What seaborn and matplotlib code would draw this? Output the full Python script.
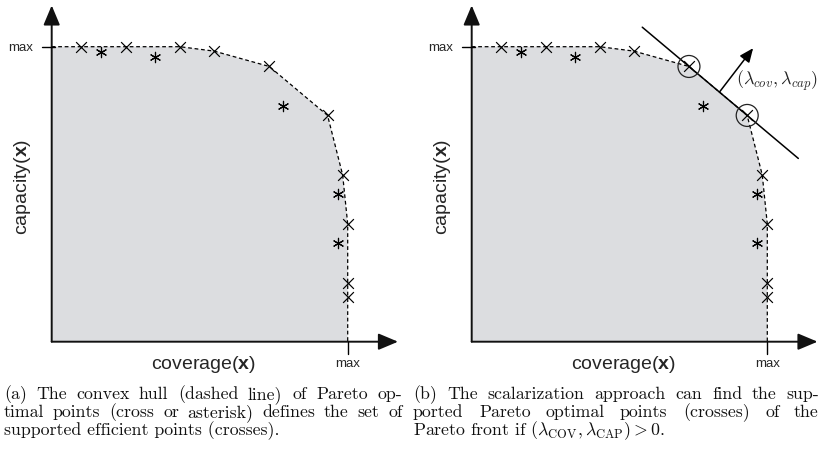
import matplotlib
matplotlib.use("Agg")
import matplotlib.pyplot as plt
import numpy as np
import pandas as pd
import seaborn as sns

sns.set_theme(style="white")
plt.rcParams["font.family"] = ["Liberation Sans", "DejaVu Sans"]
plt.rcParams["mathtext.fontset"] = "cm"
plt.rcParams["mathtext.rm"] = "Liberation Sans"
plt.rcParams["mathtext.it"] = "Liberation Sans:italic"
plt.rcParams["mathtext.bf"] = "Liberation Sans:bold"

# Pareto points, both objectives normalised so that "max" = 1
supported_cov = [0.099, 0.250, 0.433, 0.549, 0.735, 0.932, 0.983, 1.000, 1.000, 1.000]
supported_cap = [1.000, 1.000, 1.000, 0.985, 0.933, 0.767, 0.565, 0.399, 0.200, 0.150]
unsupported_cov = [0.168, 0.349, 0.783, 0.966, 0.966]
unsupported_cap = [0.983, 0.966, 0.800, 0.500, 0.334]
# supported points reached by the weighted-sum line in panel (b)
found_idx = [4, 5]

caption_a = ["(a) The convex hull (dashed line) of Pareto op-",
             "timal points (cross or asterisk) defines the set of",
             "supported efficient points (crosses)."]
caption_b = ["(b) The scalarization approach can find the sup-",
             "ported Pareto optimal points (crosses) of the",
             r"Pareto front if $(\lambda_{\mathrm{COV}}, \lambda_{\mathrm{CAP}}) > \mathbf{0}$."]

W, H = 822, 449
fig = plt.figure(figsize=(W / 100, H / 100), dpi=100)

XMAX, YMAX = 1.18, 1.16
GREY = "#dcdde0"


def make_axes(x0_px, unit_x, unit_y=295.0, origin_y_px=341.7):
    w = XMAX * unit_x
    h = YMAX * unit_y
    ax = fig.add_axes([x0_px / W, (H - origin_y_px) / H, w / W, h / H])
    ax.set_xlim(0, XMAX)
    ax.set_ylim(0, YMAX)
    ax.set_axis_off()
    return ax


def draw_panel(ax):
    hull = pd.DataFrame({
        "coverage": [0.0] + supported_cov + [1.0],
        "capacity": [1.0] + supported_cap + [0.0],
    })
    # feasible region under the hull
    ax.fill(list(hull["coverage"]) + [0.0], list(hull["capacity"]) + [0.0],
            color=GREY, lw=0, zorder=1)
    sns.lineplot(data=hull, x="coverage", y="capacity", sort=False, estimator=None,
                 color="black", lw=0.9, dashes=False, ax=ax, zorder=3)
    ax.lines[-1].set_dashes([3.0, 2.2])

    sns.scatterplot(x=supported_cov, y=supported_cap, marker="x", s=60,
                    color="black", linewidth=0.85, ax=ax, zorder=5, clip_on=False)
    sns.scatterplot(x=unsupported_cov, y=unsupported_cap, marker=(6, 2, 0), s=55,
                    color="black", linewidth=0.85, ax=ax, zorder=5, clip_on=False)

    arrow = dict(arrowstyle="-|>,head_length=1.0,head_width=0.42", mutation_scale=12,
                 lw=1.4, color="#111111", shrinkA=0, shrinkB=0)
    ax.annotate("", xy=(1.17, 0), xytext=(0, 0), arrowprops=arrow, zorder=6,
                annotation_clip=False)
    ax.annotate("", xy=(0, 1.14), xytext=(0, 0), arrowprops=arrow, zorder=6,
                annotation_clip=False)

    # "max" ticks
    ax.plot([-0.034, 0.012], [1, 1], color="black", lw=1.0, clip_on=False, zorder=6)
    ax.plot([1, 1], [0, -0.04], color="black", lw=1.0, clip_on=False, zorder=6)
    ax.text(-0.105, 0.986, "max", ha="center", va="baseline", fontsize=9.5)
    ax.text(1.0, -0.085, "max", ha="center", va="baseline", fontsize=9.5)

    ax.text(-0.099, 0.525, r"capacity($\mathbf{x}$)", rotation=90, ha="center",
            va="center", fontsize=14, math_fontfamily="custom")
    ax.text(0.512, -0.093, r"coverage($\mathbf{x}$)", ha="center", va="baseline",
            fontsize=14, math_fontfamily="custom")


ax_a = make_axes(51.7, 296.0)
draw_panel(ax_a)

ax_b = make_axes(471.7, 295.6)
draw_panel(ax_b)

# weighted-sum line through the two supported points it touches
px = [supported_cov[i] for i in found_idx]
py = [supported_cap[i] for i in found_idx]
slope = (py[1] - py[0]) / (px[1] - px[0])
line_x = np.array([0.577, 1.105])
line_y = py[0] + slope * (line_x - px[0])
sns.lineplot(x=line_x, y=line_y, color="black", lw=1.1, ax=ax_b, zorder=7)
ax_b.lines[-1].set_clip_on(False)
sns.scatterplot(x=px, y=py, marker="o", s=250, facecolor="none", edgecolor="#222222",
                linewidth=0.9, ax=ax_b, zorder=8, clip_on=False)

# weight vector, normal to the line
ax_b.annotate("", xy=(0.952, 0.995), xytext=(0.838, 0.846),
              arrowprops=dict(arrowstyle="-|>,head_length=0.7,head_width=0.3",
                              mutation_scale=12, lw=1.1, color="black",
                              shrinkA=0, shrinkB=0),
              zorder=8, annotation_clip=False)
ax_b.text(1.034, 0.885, r"$(\lambda_{cov}, \lambda_{cap})$", ha="center", va="center",
          fontsize=13, math_fontfamily="cm")


# justified captions (baselines on whole pixels so words stay level)
CAP_FONT = dict(family="cmr10", fontsize=12.8, color="#111111", math_fontfamily="cm")


def caption(lines, x0, x1, base0, step):
    renderer = fig.canvas.get_renderer()
    for i, line in enumerate(lines):
        y = (H - (base0 + i * step)) / H
        if i == len(lines) - 1:
            fig.text(x0 / W, y, line, ha="left", va="baseline", **CAP_FONT)
            continue
        words = line.split(" ")
        texts = [fig.text(0, y, w, ha="left", va="baseline", **CAP_FONT) for w in words]
        widths = [t.get_window_extent(renderer).width for t in texts]
        gap = (x1 - x0 - sum(widths)) / (len(words) - 1)
        pos = x0
        for t, w in zip(texts, widths):
            t.set_x(round(pos) / W)
            pos += w + gap


caption(caption_a, 4, 402, 399, 18)
caption(caption_b, 413, 819, 399, 18)

fig.savefig("out.png", dpi=100)
